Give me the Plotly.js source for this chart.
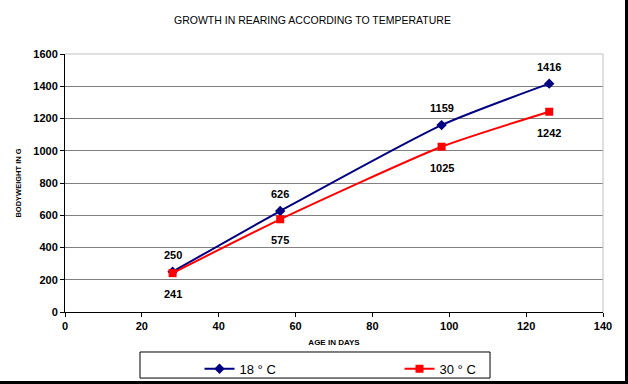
<!DOCTYPE html>
<html><head><meta charset="utf-8">
<script src="https://cdn.plot.ly/plotly-3.0.1.min.js"></script>
<style>
html,body{margin:0;padding:0;background:#fff;}
#wrap{width:628px;height:384px;box-sizing:border-box;border-right:3px solid #000;border-bottom:3px solid #000;overflow:hidden;}
#chart{width:625px;height:381px;}
</style></head>
<body><div id="wrap"><div id="chart"></div></div>
<script>
const ageDays = [28, 56, 98, 126];
const weight18 = [250, 626, 1159, 1416];
const weight30 = [241, 575, 1025, 1242];
const seriesNames = ['18 ° C', '30 ° C'];
const xTicks = [0, 20, 40, 60, 80, 100, 120, 140];
const yTicks = [0, 200, 400, 600, 800, 1000, 1200, 1400, 1600];

const F = 'Liberation Sans, Arial, sans-serif';
const traces = [
  {x: ageDays, y: weight18, name: seriesNames[0], mode: 'lines+markers',
   line: {color: '#000080', width: 2, shape: 'spline', smoothing: 0.6},
   marker: {symbol: 'diamond', size: 8, color: '#000080'}},
  {x: ageDays, y: weight30, name: seriesNames[1], mode: 'lines+markers',
   line: {color: '#FF0000', width: 2, shape: 'spline', smoothing: 0.6},
   marker: {symbol: 'square', size: 8, color: '#FF0000'}}
];
const annotations = [];
ageDays.forEach((d, i) => {
  annotations.push({x: d, y: weight18[i], text: String(weight18[i]), showarrow: false,
    yshift: 17, font: {family: F, size: 11, color: '#000', weight: 'bold'}});
  annotations.push({x: d, y: weight30[i], text: String(weight30[i]), showarrow: false,
    yshift: -21, font: {family: F, size: 11, color: '#000', weight: 'bold'}});
});
annotations.push({xref: 'paper', yref: 'paper', x: 0.46, y: 1.0, yshift: 42, showarrow: false,
  text: 'GROWTH IN REARING ACCORDING TO TEMPERATURE', font: {family: F, size: 10.5, color: '#000'}});

const layout = {
  width: 625, height: 381,
  margin: {l: 65, r: 22, t: 54, b: 69, autoexpand: false},
  paper_bgcolor: '#fff', plot_bgcolor: '#fff',
  showlegend: true,
  xaxis: {range: [0, 140], tickvals: xTicks, ticks: 'outside', ticklen: 4, tickcolor: '#000',
    showline: true, linecolor: '#000', linewidth: 1, showgrid: false, zeroline: false,
    tickfont: {family: F, size: 11, color: '#000', weight: 'bold'},
    title: {text: 'AGE IN DAYS', standoff: 8, font: {family: F, size: 8, color: '#000', weight: 'bold'}}},
  yaxis: {range: [0, 1600], tickvals: yTicks, ticks: 'outside', ticklen: 4, tickcolor: '#000',
    showline: true, linecolor: '#000', linewidth: 1, showgrid: true, gridcolor: '#808080', gridwidth: 1,
    zeroline: false,
    tickfont: {family: F, size: 11, color: '#000', weight: 'bold'},
    title: {text: 'BODYWEIGHT IN G', standoff: 10, font: {family: F, size: 7.5, color: '#000', weight: 'bold'}}},
  legend: {orientation: 'h', x: 0.25, xanchor: 'left', y: -0.162, yanchor: 'top',
    bgcolor: 'rgba(0,0,0,0)', borderwidth: 0, entrywidth: 155, entrywidthmode: 'pixels',
    font: {family: F, size: 13, color: '#000'}},
  shapes: [
    {type: 'line', xref: 'paper', yref: 'paper', x0: 0, x1: 1, y0: 1, y1: 1, line: {color: '#c0c0c0', width: 1}},
    {type: 'line', xref: 'paper', yref: 'paper', x0: 1, x1: 1, y0: 0, y1: 1, line: {color: '#c0c0c0', width: 1}},
    {type: 'rect', xref: 'paper', yref: 'paper', x0: 0.1394, x1: 0.79, y0: -0.256, y1: -0.155,
     line: {color: '#000', width: 1}, fillcolor: 'rgba(0,0,0,0)'}
  ],
  annotations: annotations
};
Plotly.newPlot('chart', traces, layout, {displayModeBar: false, staticPlot: true});
</script></body></html>
